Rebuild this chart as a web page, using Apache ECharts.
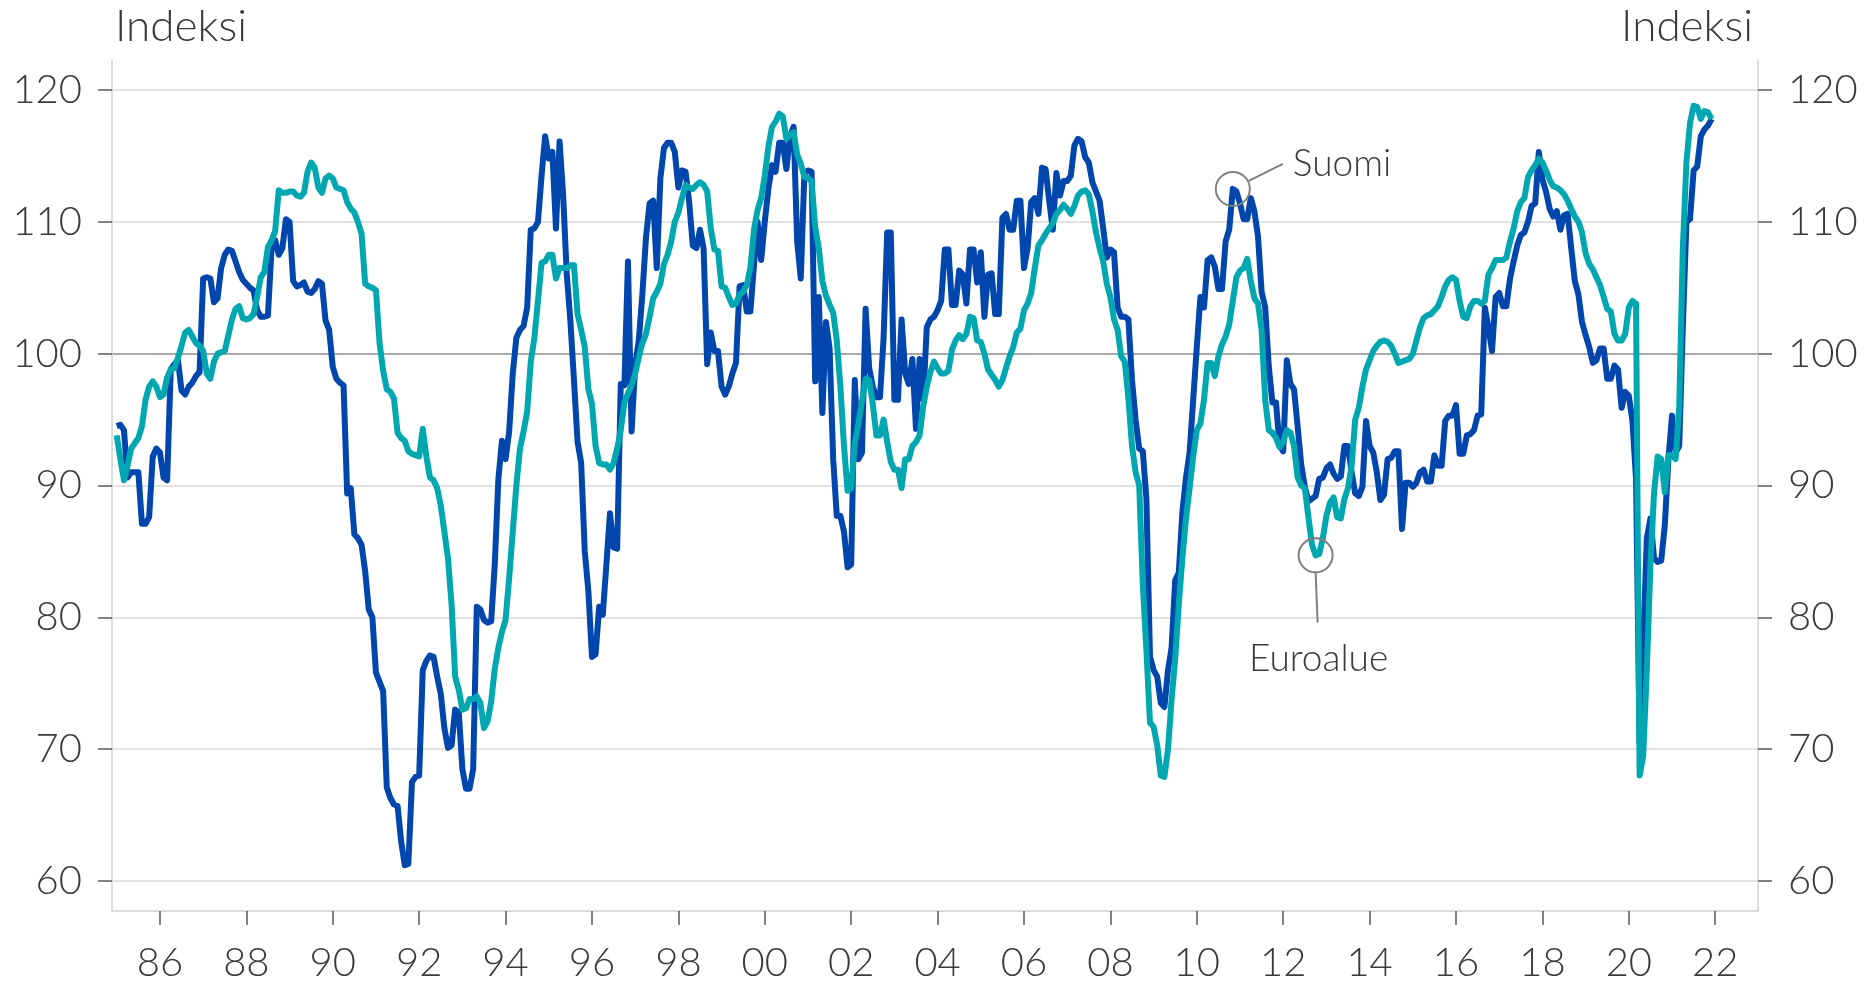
<!DOCTYPE html>
<html><head><meta charset="utf-8">
<script src="https://cdn.jsdelivr.net/npm/echarts@6/dist/echarts.min.js"></script>
<style>html,body{margin:0;padding:0;background:#fff}#c{width:1868px;height:983px}</style>
</head><body><div id="c"></div>
<script>
// Monthly data, Jan 1985 .. Dec 2021
const startYear = 1985;
const seriesNames = ['Suomi', 'Euroalue'];
const suomi = [
94.5,94.6,94.2,90.6,91.0,91.0,91.0,87.1,87.1,87.6,92.2,92.8,
92.5,90.6,90.4,98.8,99.2,99.5,97.2,96.9,97.5,97.8,98.3,98.6,
105.7,105.8,105.7,103.9,104.2,106.5,107.5,107.9,107.8,107.0,106.2,105.6,
105.3,105.0,104.8,103.3,102.8,102.8,102.9,108.0,108.6,107.5,108.0,110.2,
110.0,105.5,105.1,105.2,105.4,104.7,104.6,104.9,105.5,105.3,102.5,101.8,
99.0,98.1,97.8,97.6,89.4,89.8,86.3,86.0,85.5,83.5,80.6,80.0,
75.8,75.1,74.4,67.1,66.3,65.8,65.7,63.0,61.2,61.3,67.5,67.9,
68.0,76.0,76.7,77.1,77.0,75.5,74.2,71.6,70.1,70.3,73.0,72.8,
68.5,67.0,67.0,68.5,80.8,80.6,79.8,79.6,79.7,84.0,90.5,93.4,
92.0,94.1,98.5,101.2,101.8,102.1,103.5,109.4,109.5,110.0,113.5,116.5,
114.8,115.3,109.5,116.1,112.0,106.0,102.5,98.0,93.3,91.7,85.0,82.0,
77.0,77.2,80.8,80.2,84.0,87.9,85.3,85.2,97.7,97.6,107.0,94.1,
99.1,101.0,104.5,108.8,111.4,111.6,106.5,113.3,115.6,116.0,116.0,115.3,
112.6,113.9,113.8,111.5,108.2,108.0,109.4,108.0,99.2,101.6,100.2,100.2,
97.5,96.9,97.5,98.5,99.3,105.1,105.2,103.2,103.2,106.7,110.0,107.1,
110.0,112.5,114.3,113.8,116.0,116.0,114.0,116.5,117.2,108.5,105.7,113.7,
113.9,113.8,97.9,104.3,95.5,102.4,100.4,92.0,87.7,87.7,86.5,83.8,
84.0,98.0,92.0,92.5,103.4,98.9,97.5,96.7,96.7,101.2,109.2,109.2,
96.5,96.5,102.6,98.5,97.7,99.6,94.3,99.6,96.5,102.0,102.6,102.8,
103.3,104.0,107.9,107.9,103.7,103.7,106.3,106.0,103.8,107.9,107.9,105.4,
107.7,102.8,106.0,106.1,103.0,103.0,110.3,110.6,109.4,109.4,111.6,111.6,
106.5,108.0,111.5,111.8,110.6,114.1,114.0,111.6,109.4,113.7,112.0,113.1,
113.1,113.5,115.8,116.3,116.1,114.9,114.5,113.0,112.3,111.6,109.5,107.3,
107.9,107.7,103.5,102.8,102.8,102.6,98.0,95.0,92.8,92.6,89.0,77.0,
76.0,75.5,73.5,73.2,76.0,77.7,82.8,83.4,88.0,90.6,92.5,96.5,
100.5,104.3,103.5,107.1,107.3,106.6,104.9,104.9,108.5,109.4,112.5,112.3,
111.4,110.2,110.2,111.8,110.8,108.9,104.7,103.5,99.0,96.3,96.3,93.0,
92.6,99.5,97.7,97.3,94.5,91.6,89.9,88.8,89.0,89.2,90.5,90.6,
91.3,91.6,90.9,90.5,90.7,93.0,93.0,91.0,89.4,89.2,89.9,94.9,
93.0,92.5,91.0,88.9,89.3,92.0,92.1,92.6,92.6,86.7,90.2,90.2,
89.9,90.2,91.0,91.2,90.3,90.3,92.3,91.5,91.5,94.9,95.3,95.3,
96.1,92.4,92.4,93.8,93.9,94.2,95.3,95.4,103.5,102.0,100.2,104.3,
104.6,103.6,103.6,105.7,107.0,108.2,109.0,109.2,110.0,111.2,111.4,115.3,
113.2,112.3,111.0,110.4,110.8,109.4,110.5,110.6,108.0,105.5,104.5,102.4,
101.4,100.5,99.3,99.5,100.4,100.4,98.1,98.1,99.1,98.8,95.9,97.1,
96.8,94.9,90.5,70.5,78.0,86.0,87.5,84.5,84.2,84.3,87.0,92.0,
95.3,92.5,93.0,102.0,110.0,110.2,113.9,114.2,116.5,117.0,117.3,117.8
];
const euroalue = [
93.8,92.0,90.4,91.5,92.8,93.2,93.6,94.5,96.5,97.5,97.9,97.5,
96.7,96.9,98.2,98.8,98.9,99.7,100.6,101.6,101.8,101.3,100.8,100.6,
100.2,98.5,98.1,99.4,100.0,100.1,100.2,101.4,102.6,103.4,103.6,102.7,
102.6,102.7,103.0,104.3,105.8,106.2,108.1,108.6,109.3,112.4,112.2,112.2,
112.3,112.3,112.0,111.9,112.2,113.8,114.5,114.1,112.6,112.2,113.3,113.5,
113.3,112.6,112.5,112.4,111.5,111.0,110.7,110.0,109.1,105.3,105.1,105.0,
104.8,100.8,98.7,97.3,97.1,96.6,94.0,93.6,93.4,92.6,92.4,92.3,
92.2,94.3,92.2,90.6,90.4,89.8,88.5,86.5,84.5,81.0,75.5,74.5,
73.0,73.1,73.8,73.8,74.0,73.5,71.6,72.1,73.6,76.1,77.7,78.9,
79.8,83.0,86.5,90.0,92.8,94.1,95.6,99.4,101.2,104.0,106.9,107.0,
107.5,107.5,105.7,106.5,106.5,106.5,106.7,106.7,103.0,101.8,100.5,97.3,
96.2,93.0,91.7,91.6,91.6,91.2,91.7,92.8,94.2,96.3,97.0,97.6,
98.5,99.7,100.8,101.5,102.8,104.2,104.7,105.3,106.8,107.5,108.5,110.0,
110.7,111.8,112.8,112.6,112.5,112.8,113.0,112.8,112.3,109.5,107.9,107.8,
105.1,105.0,104.3,103.7,103.8,104.5,104.7,105.2,106.5,109.4,110.9,111.8,
113.5,115.7,117.2,117.6,118.2,118.0,116.3,116.6,116.8,115.1,114.4,113.4,
113.3,113.1,109.6,108.0,105.5,104.4,103.7,103.1,101.0,97.5,93.0,89.6,
89.8,93.2,94.7,96.4,98.1,98.0,96.2,93.8,93.8,95.0,93.3,91.8,
91.2,91.2,89.8,92.0,92.0,93.0,93.3,93.8,96.0,97.5,98.6,99.4,
98.9,98.5,98.5,98.7,100.3,101.0,101.4,101.1,101.5,102.8,102.7,101.0,
100.9,100.0,98.8,98.4,98.0,97.5,98.0,98.9,99.8,100.5,101.6,101.9,
103.3,103.8,104.6,106.5,108.2,108.6,109.1,109.5,109.9,110.6,110.9,111.3,
111.0,110.6,111.2,112.0,112.3,112.4,112.1,110.8,109.2,108.0,107.0,105.3,
104.3,102.6,101.8,99.8,99.4,96.6,93.0,91.0,90.0,82.5,77.5,72.0,
71.7,70.3,68.0,67.9,70.0,73.8,76.8,81.0,84.5,87.5,89.8,92.2,
94.2,94.7,96.5,99.3,99.3,98.3,99.8,100.7,101.3,102.2,104.0,105.8,
106.3,106.5,107.2,105.5,104.2,103.8,101.8,96.5,94.2,94.0,93.6,92.9,
93.3,94.2,94.0,93.0,90.6,90.0,89.8,87.6,85.5,84.7,84.8,86.0,
87.7,88.7,89.1,87.6,87.5,89.0,89.8,91.5,95.0,95.9,97.5,98.8,
99.5,100.2,100.6,100.9,101.0,100.9,100.6,100.0,99.3,99.4,99.5,99.6,
100.0,101.0,102.0,102.7,102.9,103.0,103.3,103.6,104.3,105.1,105.6,105.8,
105.6,104.0,102.8,102.7,103.6,104.0,104.0,103.8,104.0,106.0,106.5,107.1,
107.1,107.1,107.3,108.5,109.5,110.8,111.5,111.8,113.4,113.9,114.3,114.8,
114.5,113.9,113.2,112.7,112.6,112.4,112.1,111.6,111.0,110.4,110.0,109.2,
107.6,106.8,106.4,105.8,105.2,104.3,103.4,103.2,101.5,101.0,101.0,101.5,
103.5,104.0,103.8,68.0,69.5,76.0,84.0,89.4,92.2,92.0,89.5,92.3,
92.3,92.0,96.0,108.0,114.5,117.5,118.8,118.7,117.8,118.4,118.3,117.8
];
const xTickYears = [1986,1988,1990,1992,1994,1996,1998,2000,2002,2004,2006,2008,2010,2012,2014,2016,2018,2020,2022];
const xTickLabels = ['86','88','90','92','94','96','98','00','02','04','06','08','10','12','14','16','18','20','22'];
const yTickValues = [60,70,80,90,100,110,120];
const axisTitle = 'Indeksi';
// annotated months: [year, month]
const suomiMark = {name: 'Suomi', year: 2010, month: 11};
const euroMark = {name: 'Euroalue', year: 2012, month: 10};

const FONT = 'Lato, "Open Sans", sans-serif';
const TXT = '#3a3a3a';
const GRID = '#d9d9d9';
const TICK = '#595959';
const X_MIN = 1984.89, X_MAX = 2022.99;

function toPairs(arr){ return arr.map((v,i)=>[startYear + i/12, v]); }

const chart = echarts.init(document.getElementById('c'), null, {renderer:'canvas'});

const yAxisCommon = {
  type:'value', gridIndex:0, min:yTickValues[0], max:yTickValues[yTickValues.length-1], interval:10,
  axisLine:{show:false},
  axisTick:{show:true, inside:false, length:14, lineStyle:{color:TICK, width:1.5}},
  axisLabel:{fontFamily:FONT, fontWeight:300, fontSize:40, color:TXT, margin:30}
};

chart.setOption({
  animation:false,
  backgroundColor:'#ffffff',
  title:[
    {text:axisTitle, left:110, top:0, textStyle:{fontFamily:FONT, fontWeight:300, fontSize:44, color:TXT}},
    {text:axisTitle, right:110, top:0, textStyle:{fontFamily:FONT, fontWeight:300, fontSize:44, color:TXT}}
  ],
  grid:[
    {left:112, right:110, top:90, bottom:102, outerBoundsMode:'none', containLabel:false},
    {left:112, right:110, top:60, bottom:72, outerBoundsMode:'none', containLabel:false}
  ],
  xAxis:[
    {type:'value', gridIndex:0, min:X_MIN, max:X_MAX, show:false},
    {type:'value', gridIndex:1, min:X_MIN, max:X_MAX,
      axisLine:{show:true, lineStyle:{color:'#d0d0d0', width:1.5}},
      axisTick:{show:true, customValues:xTickYears, length:14, lineStyle:{color:TICK, width:1.5}},
      axisLabel:{customValues:xTickYears, fontFamily:FONT, fontWeight:300, fontSize:40, color:TXT, margin:32,
        formatter:(v)=>{ const k = xTickYears.indexOf(Math.round(v)); return k>=0 ? xTickLabels[k] : ''; }},
      splitLine:{show:false}}
  ],
  yAxis:[
    Object.assign({}, yAxisCommon, {position:'left',
      splitLine:{show:true, lineStyle:{width:1.6, color:[GRID,GRID,GRID,GRID,'#8c8c8c',GRID,GRID]}}}),
    Object.assign({}, yAxisCommon, {position:'right', splitLine:{show:false}}),
    {type:'value', gridIndex:1, position:'left', min:0, max:1,
      axisLine:{show:true, lineStyle:{color:'#d0d0d0', width:1.5}}, axisTick:{show:false}, axisLabel:{show:false}, splitLine:{show:false}},
    {type:'value', gridIndex:1, position:'right', min:0, max:1,
      axisLine:{show:true, lineStyle:{color:'#d0d0d0', width:1.5}}, axisTick:{show:false}, axisLabel:{show:false}, splitLine:{show:false}}
  ],
  series:[
    {name:seriesNames[0], type:'line', xAxisIndex:0, yAxisIndex:0, data:toPairs(suomi),
      showSymbol:false, symbol:'none', lineStyle:{color:'#0046AD', width:6, join:'round'}, z:3},
    {name:seriesNames[1], type:'line', xAxisIndex:0, yAxisIndex:0, data:toPairs(euroalue),
      showSymbol:false, symbol:'none', lineStyle:{color:'#00A7B1', width:6, join:'round'}, z:4}
  ]
});

function markPixel(arr, mark){
  const idx = (mark.year - startYear)*12 + (mark.month - 1);
  return chart.convertToPixel({xAxisIndex:0, yAxisIndex:0}, [startYear + idx/12, arr[idx]]);
}
const ps = markPixel(suomi, suomiMark);
const pe = markPixel(euroalue, euroMark);
const annStroke = {stroke:'#7f7f7f', lineWidth:2, fill:null};
chart.setOption({
  graphic:[
    {type:'circle', z:100, shape:{cx:ps[0], cy:ps[1], r:17}, style:Object.assign({fill:'none'}, annStroke)},
    {type:'line', z:100, shape:{x1:ps[0]+16, y1:ps[1]-8, x2:ps[0]+50, y2:ps[1]-25}, style:annStroke},
    {type:'text', z:100, x:ps[0]+60, y:ps[1]-25, style:{text:suomiMark.name, font:'300 37px '+FONT, fill:TXT, verticalAlign:'middle', align:'left'}},
    {type:'circle', z:100, shape:{cx:pe[0], cy:pe[1], r:17}, style:Object.assign({fill:'none'}, annStroke)},
    {type:'line', z:100, shape:{x1:pe[0], y1:pe[1]+17, x2:pe[0]+2, y2:pe[1]+67}, style:annStroke},
    {type:'text', z:100, x:pe[0]+3, y:pe[1]+104, style:{text:euroMark.name, font:'300 37px '+FONT, fill:TXT, verticalAlign:'middle', align:'center'}}
  ]
});
</script>
</body></html>
